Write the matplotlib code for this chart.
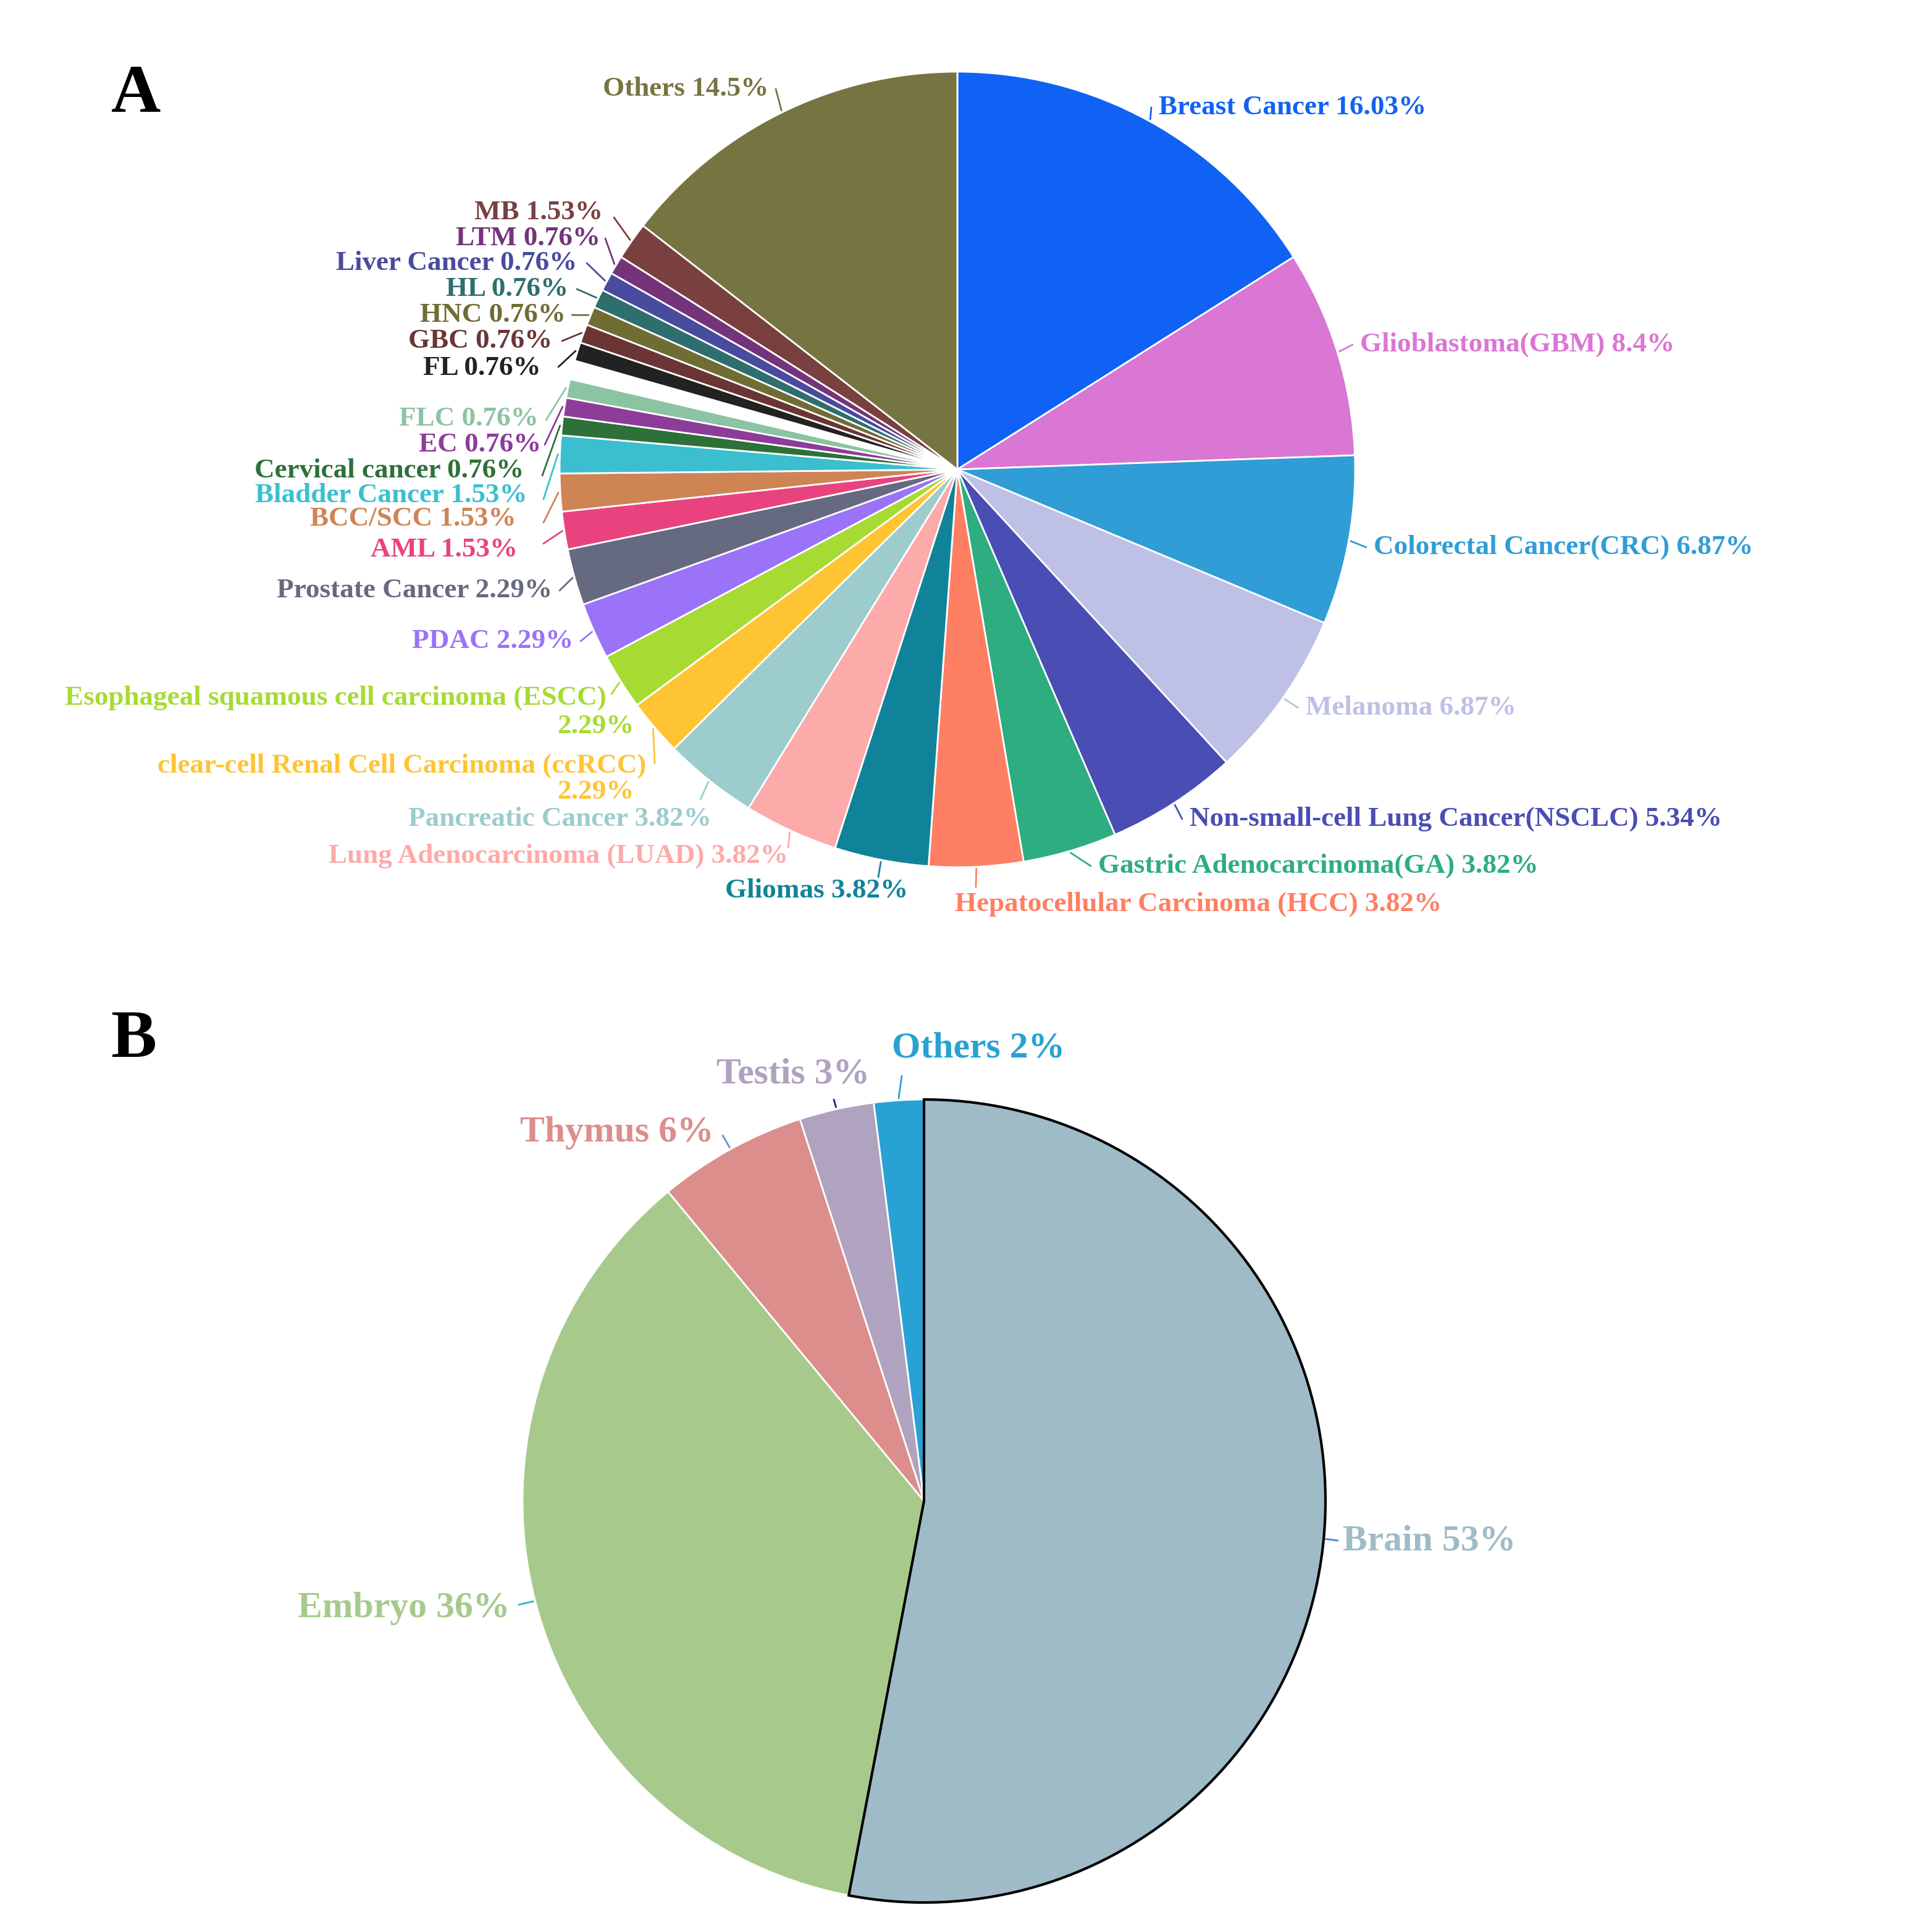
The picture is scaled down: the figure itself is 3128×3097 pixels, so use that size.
import matplotlib
matplotlib.use('Agg')
import matplotlib.pyplot as plt
import numpy as np

W, H = 3128, 3097

# ---------------- Panel A data (clockwise from 12 o'clock) ----------------
a_labels = ["Breast Cancer", "Glioblastoma(GBM)", "Colorectal Cancer(CRC)", "Melanoma",
            "Non-small-cell Lung Cancer(NSCLC)", "Gastric Adenocarcinoma(GA)",
            "Hepatocellular Carcinoma (HCC)", "Gliomas", "Lung Adenocarcinoma (LUAD)",
            "Pancreatic Cancer", "clear-cell Renal Cell Carcinoma (ccRCC)",
            "Esophageal squamous cell carcinoma (ESCC)", "PDAC", "Prostate Cancer", "AML",
            "BCC/SCC", "Bladder Cancer", "Cervical cancer", "EC", "FLC", "",
            "FL", "GBC", "HNC", "HL", "Liver Cancer", "LTM", "MB", "Others"]
a_values = [16.03, 8.4, 6.87, 6.87, 5.34, 3.82, 3.82, 3.82, 3.82, 3.82, 2.29, 2.29, 2.29,
            2.29, 1.53, 1.53, 1.53, 0.76, 0.76, 0.76, 0.76, 0.76, 0.76, 0.76, 0.76, 0.76,
            0.76, 1.53, 14.5]
a_colors = ['#1062F4', '#DA76D3', '#319DD6', '#BEC0E6', '#4A4DB3', '#2DAD80', '#FE7F63',
            '#10839A', '#FDAAAA', '#9CCCCC', '#FFC434', '#A7DB33', '#9A73F8', '#666A80',
            '#E9437F', '#CF8454', '#3BBFD0', '#2D7139', '#8D3C9A', '#8CC3A2', '#FFFFFF',
            '#222222', '#6B3535', '#6F6D33', '#2E6E6E', '#484B9E', '#74347A', '#7A4040',
            '#767541']

# ---------------- Panel B data ----------------
b_labels = ["Brain", "Embryo", "Thymus", "Testis", "Others"]
b_values = [53, 36, 6, 3, 2]
b_colors = ['#9FBBC7', '#A7CA8C', '#DC8E8C', '#AFA3BF', '#28A2D4']
b_conn_colors = ['#3A86D8', '#2BB3C0', '#6A8FD0', '#1A237E', '#28A2D4']

# ---------------- layout (pixel coords, origin top-left) ----------------
A_CENTER, A_R = (1550, 760), 644
B_CENTER, B_R = (1496, 2430), 650

# (x, y, ha, second-line (x, y) or None, connector end or None)
a_layout = [
    (1876, 174, 'left', None, None),
    (2202, 558, 'left', None, None),
    (2224, 886, 'left', None, None),
    (2114, 1146, 'left', None, None),
    (1926, 1326, 'left', None, None),
    (1778, 1402, 'left', None, None),
    (1546, 1464, 'left', None, (1580, 1436)),
    (1470, 1442, 'right', None, (1422, 1420)),
    (1276, 1386, 'right', None, (1276, 1372)),
    (1152, 1326, 'right', None, (1134, 1294)),
    (1046, 1240, 'right', (1026, 1282), (1060, 1236)),
    (982, 1130, 'right', (1026, 1176), (990, 1124)),
    (928, 1038, 'right', None, None),
    (894, 956, 'right', None, None),
    (838, 890, 'right', None, (880, 880)),
    (836, 840, 'right', None, (880, 846)),
    (854, 802, 'right', None, (880, 808)),
    (848, 762, 'right', None, (878, 770)),
    (876, 720, 'right', None, (882, 720)),
    (872, 678, 'right', None, (884, 680)),
    None,
    (876, 596, 'right', None, (904, 594)),
    (894, 552, 'right', None, (910, 552)),
    (916, 510, 'right', None, (926, 510)),
    (920, 468, 'right', None, (934, 468)),
    (934, 426, 'right', None, (950, 426)),
    (972, 386, 'right', None, (980, 386)),
    (976, 344, 'right', None, (994, 352)),
    (1244, 144, 'right', None, None),
]
b_layout = [
    (2174, 2496, 'left', None, (2166, 2494)),
    (826, 2604, 'right', None, (840, 2598)),
    (1156, 1834, 'right', None, (1170, 1838)),
    (1408, 1740, 'right', None, (1350, 1780)),
    (1444, 1698, 'left', None, (1460, 1742)),
]

FONT = 'Liberation Serif'


def P(x, y):
    return x, H - y


fig = plt.figure(figsize=(W / 100, H / 100), dpi=100)
ax = fig.add_axes([0, 0, 1, 1])
ax.axis('off')


def draw_pie(values, colors, labels, layout, center, radius, fs, edge_lw, conn_colors=None):
    cx, cy = P(*center)
    wedges, _ = ax.pie(values, colors=colors, startangle=90, counterclock=False,
                       center=(cx, cy), radius=radius, normalize=True,
                       wedgeprops=dict(edgecolor='white', linewidth=edge_lw))
    for i, w in enumerate(wedges):
        lay = layout[i]
        if lay is None or labels[i] == "":
            continue
        x, y, ha, second, cend = lay
        col = colors[i]
        pct = f"{values[i]:g}%"
        if second is None:
            ax.text(*P(x, y), f"{labels[i]} {pct}", ha=ha, va='center', color=col,
                    fontsize=fs, fontweight='bold', family=FONT)
        else:
            ax.text(*P(x, y), labels[i], ha=ha, va='center', color=col,
                    fontsize=fs, fontweight='bold', family=FONT)
            ax.text(*P(*second), pct, ha='right', va='center', color=col,
                    fontsize=fs, fontweight='bold', family=FONT)
        mid = np.deg2rad((w.theta1 + w.theta2) / 2)
        sx, sy = cx + radius * 1.005 * np.cos(mid), cy + radius * 1.005 * np.sin(mid)
        if cend is None:
            ex, ey = P(x - 12 if ha == 'left' else x + 12, y)
        else:
            ex, ey = P(*cend)
        cc = col if conn_colors is None else conn_colors[i]
        ax.plot([sx, ex], [sy, ey], color=cc, lw=2, solid_capstyle='round')
    return wedges


draw_pie(a_values, a_colors, a_labels, a_layout, A_CENTER, A_R, 32.5, 2)
wb = draw_pie(b_values, b_colors, b_labels, b_layout, B_CENTER, B_R, 43, 2, b_conn_colors)
wb[0].set_edgecolor('black')
wb[0].set_linewidth(3)
wb[0].set_zorder(wb[0].get_zorder() + 1)

ax.text(*P(220, 154), "A", ha='center', va='center', fontsize=80, fontweight='bold',
        family=FONT, color='black')
ax.text(*P(216, 1684), "B", ha='center', va='center', fontsize=80, fontweight='bold',
        family=FONT, color='black')

ax.set_xlim(0, W)
ax.set_ylim(0, H)
ax.set_aspect('equal')
ax.set_position([0, 0, 1, 1])
ax.axis('off')

fig.savefig('out.png', dpi=100, facecolor='white')
